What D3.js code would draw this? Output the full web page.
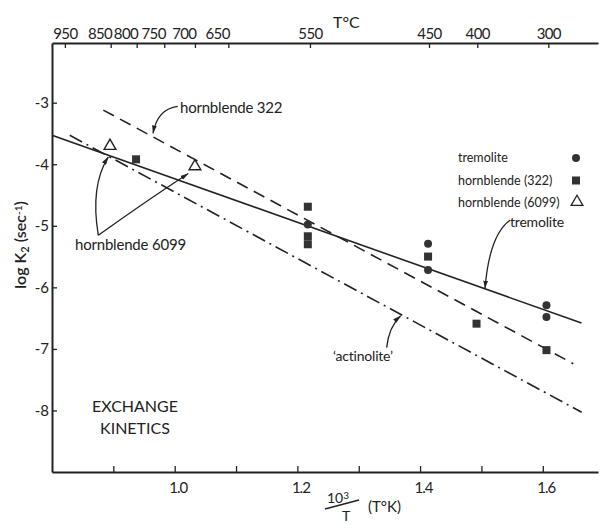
<!DOCTYPE html>
<html>
<head>
<meta charset="utf-8">
<script src="https://cdn.jsdelivr.net/npm/d3@7"></script>
<style>
  body { margin: 0; background: #fff; }
  svg text { font-family: Lato, "Open Sans", sans-serif; fill: #222; }
</style>
</head>
<body>
<div id="chart"></div>
<script>
// --- data ---
const xTicks = [0.9, 1.0, 1.1, 1.2, 1.3, 1.4, 1.5, 1.6];
const xTickLabels = ["", "1.0", "", "1.2", "", "1.4", "", "1.6"];
const yTicks = [-3, -4, -5, -6, -7, -8];
const topTickLabels = [950, 850, 800, 750, 700, 650, 550, 450, 400, 300];
const topTickPos = [0.821, 0.8957, 0.938, 0.983, 1.033, 1.0874, 1.2205, 1.4145, 1.4932, 1.609];

const tremoliteX = [1.217, 1.413, 1.413, 1.606, 1.606];
const tremoliteY = [-4.98, -5.29, -5.72, -6.29, -6.48];
const hb322X = [0.937, 1.217, 1.217, 1.217, 1.413, 1.492, 1.606];
const hb322Y = [-3.92, -4.69, -5.17, -5.30, -5.50, -6.59, -7.02];
const hb6099X = [0.8945, 1.033];
const hb6099Y = [-3.72, -4.05];

// fitted lines (end points)
const tremoliteFitX = [0.8, 1.663];
const tremoliteFitY = [-3.53, -6.58];
const hb322FitX = [0.8836, 1.6497];
const hb322FitY = [-3.12, -7.24];
const actinoliteFitX = [0.829, 1.6634];
const actinoliteFitY = [-3.53, -8.03];

// --- layout ---
const W = 603, H = 525;
const plot = { left: 52, right: 598, top: 43, bottom: 472 };
const ink = "#222";

const svg = d3.select("#chart").append("svg")
    .attr("width", W).attr("height", H);

const x = d3.scaleLinear().domain([0.8, 1.69]).range([plot.left, plot.right]);
const y = d3.scaleLinear().domain([-9.0, -2.03]).range([plot.bottom, plot.top]);

// arrow head marker
svg.append("defs").append("marker")
    .attr("id", "arrow")
    .attr("viewBox", "0 0 10 6")
    .attr("refX", 10).attr("refY", 3)
    .attr("markerWidth", 8).attr("markerHeight", 5)
    .attr("markerUnits", "userSpaceOnUse")
    .attr("orient", "auto")
    .append("path").attr("d", "M0,0 L10,3 L0,6 Z").attr("fill", ink);

// --- axes ---
const gBottom = svg.append("g")
    .attr("transform", `translate(0,${plot.bottom})`)
    .call(d3.axisBottom(x).tickValues(xTicks)
        .tickFormat((d, i) => xTickLabels[i])
        .tickSizeInner(-6).tickSizeOuter(0).tickPadding(10));

const gLeft = svg.append("g")
    .attr("transform", `translate(${plot.left},0)`)
    .call(d3.axisLeft(y).tickValues(yTicks)
        .tickFormat(d => "-" + Math.abs(d))
        .tickSizeInner(-5).tickSizeOuter(0).tickPadding(3));

const gTop = svg.append("g")
    .attr("transform", `translate(0,${plot.top})`)
    .call(d3.axisTop(x).tickValues(topTickPos)
        .tickFormat((d, i) => topTickLabels[i])
        .tickSizeInner(-5).tickSizeOuter(0).tickPadding(4));

[gBottom, gLeft, gTop].forEach(g => {
    g.select(".domain").attr("stroke", ink).attr("stroke-width", 2);
    g.selectAll(".tick line").attr("stroke", ink).attr("stroke-width", 1.3);
    g.selectAll(".tick text").attr("fill", ink).style("font-size", "15px");
});
gBottom.selectAll(".tick text").attr("letter-spacing", "-1").attr("dx", 3);
// the crowded high-temperature labels sit left of their ticks
gTop.selectAll(".tick text")
    .attr("letter-spacing", "-0.6")
    .attr("text-anchor", (d, i) => (topTickLabels[i] <= 850 && topTickLabels[i] >= 650) ? "end" : "middle")
    .attr("dx", (d, i) => (topTickLabels[i] <= 850 && topTickLabels[i] >= 650) ? 1 : 0);

// --- fitted lines ---
const line = d3.line().x(d => x(d[0])).y(d => y(d[1]));
const fits = [
    { xs: tremoliteFitX, ys: tremoliteFitY, dash: null },
    { xs: hb322FitX, ys: hb322FitY, dash: "12,7" },
    { xs: actinoliteFitX, ys: actinoliteFitY, dash: "14,5,2,5" }
];
fits.forEach(f => {
    svg.append("path")
        .datum(d3.zip(f.xs, f.ys))
        .attr("d", line)
        .attr("fill", "none")
        .attr("stroke", ink)
        .attr("stroke-width", 1.6)
        .attr("stroke-dasharray", f.dash);
});

// --- points ---
svg.append("g").selectAll("circle")
    .data(d3.zip(tremoliteX, tremoliteY))
    .join("circle")
    .attr("cx", d => x(d[0])).attr("cy", d => y(d[1]))
    .attr("r", 4).attr("fill", "#333");

svg.append("g").selectAll("rect")
    .data(d3.zip(hb322X, hb322Y))
    .join("rect")
    .attr("x", d => x(d[0]) - 4).attr("y", d => y(d[1]) - 4)
    .attr("width", 8).attr("height", 8).attr("fill", "#333");

const tri = d3.symbol().type(d3.symbolTriangle).size(60);
svg.append("g").selectAll("path")
    .data(d3.zip(hb6099X, hb6099Y))
    .join("path")
    .attr("transform", d => `translate(${x(d[0])},${y(d[1]) - 1})`)
    .attr("d", tri)
    .attr("fill", "#fff").attr("stroke", ink).attr("stroke-width", 1.4);

// --- annotations (anchors in data units) ---
function curve(p0, c, p1) {
    return `M${x(p0[0])},${y(p0[1])} Q${x(c[0])},${y(c[1])} ${x(p1[0])},${y(p1[1])}`;
}
const arrows = [
    [[1.005, -3.06], [0.972, -3.10], [0.9646, -3.50]],     // hornblende 322
    [[0.8755, -5.155], [0.862, -4.35], [0.8918, -3.88]],   // hornblende 6099 (left)
    [[0.8755, -5.155], [0.95, -4.62], [1.0222, -4.15]],    // hornblende 6099 (right)
    [[1.5465, -4.91], [1.513, -5.15], [1.5058, -6.02]],    // tremolite
    [[1.3455, -6.98], [1.349, -6.64], [1.3684, -6.46]]     // actinolite
];
arrows.forEach(a => {
    svg.append("path")
        .attr("d", curve(a[0], a[1], a[2]))
        .attr("fill", "none").attr("stroke", ink).attr("stroke-width", 1.3)
        .attr("marker-end", "url(#arrow)");
});

const notes = [
    { t: "hornblende 322", at: [1.0086, -3.17], size: 15 },
    { t: "hornblende 6099", at: [0.8375, -5.40], size: 15 },
    { t: "tremolite", at: [1.5465, -5.02], size: 14 },
    { t: "\u2018actinolite\u2019", at: [1.258, -7.19], size: 14 }
];
notes.forEach(n => {
    svg.append("text")
        .attr("x", x(n.at[0])).attr("y", y(n.at[1]))
        .style("font-size", n.size + "px")
        .attr("letter-spacing", "-0.2")
        .text(n.t);
});

// --- legend ---
const legendItems = ["tremolite", "hornblende (322)", "hornblende (6099)"];
const legend = svg.append("g").attr("transform", "translate(458,162)");
legendItems.forEach((name, i) => {
    const gy = i * 22.5;
    legend.append("text").attr("x", 0).attr("y", gy)
        .style("font-size", "12.5px").text(name);
    if (i === 0) {
        legend.append("circle").attr("cx", 118).attr("cy", gy - 4).attr("r", 4).attr("fill", "#333");
    } else if (i === 1) {
        legend.append("rect").attr("x", 114).attr("y", gy - 8).attr("width", 8).attr("height", 8).attr("fill", "#333");
    } else {
        legend.append("path").attr("transform", `translate(119,${gy - 5})`)
            .attr("d", tri).attr("fill", "#fff").attr("stroke", ink).attr("stroke-width", 1.3);
    }
});

// --- titles ---
svg.append("text").attr("x", 135).attr("y", 412)
    .attr("text-anchor", "middle").style("font-size", "16px").text("EXCHANGE");
svg.append("text").attr("x", 135).attr("y", 434)
    .attr("text-anchor", "middle").style("font-size", "16px").text("KINETICS");

// top axis title T°C
svg.append("text").attr("x", 333).attr("y", 28)
    .style("font-size", "16px").text("T\u00B0C");

// y axis title: log K2 (sec-1)
const yTitle = svg.append("text")
    .attr("transform", "translate(26,245) rotate(-90)")
    .attr("text-anchor", "middle")
    .style("font-size", "16px").style("font-weight", 600);
yTitle.append("tspan").text("log K");
yTitle.append("tspan").attr("baseline-shift", "-25%").style("font-size", "11px").text("2");
yTitle.append("tspan").text(" (sec");
yTitle.append("tspan").attr("baseline-shift", "45%").style("font-size", "10px").text("-1");
yTitle.append("tspan").text(")");

// x axis title: 10^3 / T (T°K)
const xt = svg.append("g");
const tenCube = xt.append("text").attr("x", 327).attr("y", 503).style("font-size", "14px");
tenCube.append("tspan").text("10");
tenCube.append("tspan").attr("baseline-shift", "45%").style("font-size", "10px").text("3");
xt.append("line").attr("x1", 325).attr("y1", 509).attr("x2", 359).attr("y2", 500)
    .attr("stroke", ink).attr("stroke-width", 1.5);
xt.append("text").attr("x", 342).attr("y", 521).style("font-size", "14px").text("T");
xt.append("text").attr("x", 368).attr("y", 512).style("font-size", "15px").text("(T\u00B0K)");
</script>
</body>
</html>
